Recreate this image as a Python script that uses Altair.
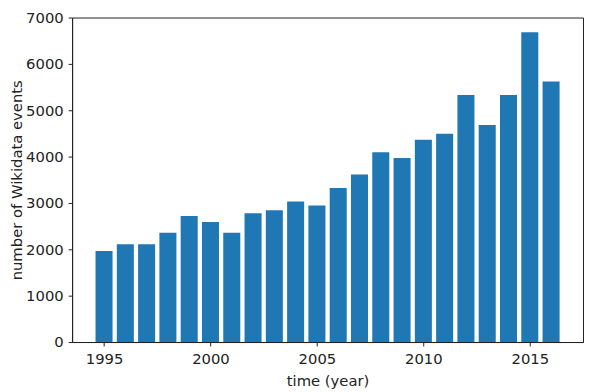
import altair as alt
import pandas as pd

years = list(range(1995, 2017))
events = [1964, 2110, 2110, 2360, 2716, 2590, 2360, 2779, 2841, 3029, 2946,
          3322, 3614, 4095, 3969, 4366, 4492, 5327, 4680, 5327, 6685, 5620]
x_ticks = [1995, 2000, 2005, 2010, 2015]
y_ticks = [0, 1000, 2000, 3000, 4000, 5000, 6000, 7000]

df = pd.DataFrame({"year": years, "events": events})

FONT = "DejaVu Sans"
TXT = "#222222"

chart = alt.Chart(df).transform_calculate(
    x0="datum.year - 0.4", x1="datum.year + 0.4"
).mark_bar(color="#1f77b4").encode(
    x=alt.X("x0:Q",
            scale=alt.Scale(domain=[1993.5, 2017.5], nice=False, zero=False),
            axis=alt.Axis(values=x_ticks, format="d", title="time (year)",
                          grid=False, tickSize=4, labelPadding=6, titlePadding=7)),
    x2="x1:Q",
    y=alt.Y("events:Q",
            scale=alt.Scale(domain=[0, 7000], nice=False),
            axis=alt.Axis(values=y_ticks, format="d", title="number of Wikidata events",
                          grid=False, tickSize=4, labelPadding=5, titlePadding=1)),
    y2=alt.datum(0),
).properties(
    width=518, height=329,
    autosize=alt.AutoSizeParams(type="none"),
    padding={"left": 65, "top": 7, "right": 1, "bottom": 48},
).configure_view(
    stroke=TXT, strokeWidth=1
).configure_axis(
    labelFont=FONT, titleFont=FONT, labelFontSize=15, titleFontSize=15,
    labelColor=TXT, titleColor=TXT, titleFontWeight="normal",
    domainColor=TXT, tickColor=TXT, domainWidth=1, tickWidth=1,
)

chart.save("out.html", embed_options={"renderer": "svg", "actions": False})
